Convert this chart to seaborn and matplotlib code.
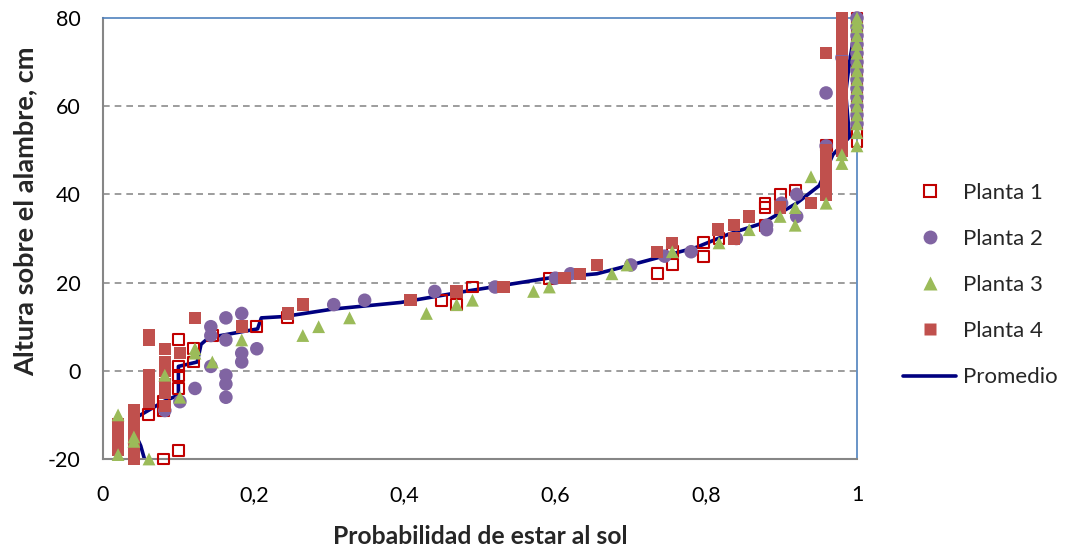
import matplotlib
matplotlib.use("Agg")
import matplotlib.pyplot as plt
import seaborn as sns
import pandas as pd
from matplotlib.lines import Line2D

sns.set_theme(style="white")
plt.rcParams['font.family'] = ['Lato', 'DejaVu Sans']
plt.rcParams['axes.unicode_minus'] = False

# ---------------- data ----------------
p1_x = [0.06, 0.08, 0.10, 0.08, 0.08, 0.10, 0.10, 0.10, 0.10, 0.12, 0.12, 0.145,
        0.204, 0.245, 0.449, 0.469, 0.49, 0.592, 0.735, 0.755, 0.755, 0.796, 0.796,
        0.817, 0.878, 0.878, 0.878, 0.898, 0.918, 0.959,
        1.0, 1.0, 1.0, 1.0, 1.0, 1.0, 1.0, 1.0, 1.0, 1.0, 1.0, 1.0, 1.0, 1.0, 1.0]
p1_y = [-10, -20, -18, -7, -9, 7, 1, -1, -4, 5, 2, 8,
        10, 12, 16, 15, 19, 21, 22, 24, 27, 26, 29,
        30, 38, 37, 33, 40, 41, 51,
        52, 54, 56, 58, 60, 62, 64, 66, 68, 70, 72, 74, 76, 78, 80]

p2_x = [0.082, 0.102, 0.122, 0.143, 0.143, 0.143, 0.163, 0.163, 0.163, 0.163, 0.163,
        0.184, 0.184, 0.184, 0.204, 0.306, 0.347, 0.44, 0.52, 0.60, 0.62, 0.70, 0.745,
        0.78, 0.84, 0.88, 0.88, 0.90, 0.92, 0.92, 0.959, 0.959, 0.98,
        1.0, 1.0, 1.0, 1.0, 1.0, 1.0, 1.0, 1.0, 1.0, 1.0, 1.0, 1.0, 1.0]
p2_y = [-9, -7, -4, 10, 8, 1, 12, 7, -1, -3, -6,
        13, 4, 2, 5, 15, 16, 18, 19, 21, 22, 24, 26,
        27, 30, 32, 33, 38, 40, 35, 51, 63, 71,
        56, 58, 60, 62, 64, 66, 68, 70, 72, 74, 76, 78, 80]

p3_x = [0.02, 0.02, 0.041, 0.041, 0.061, 0.082, 0.102, 0.122, 0.122, 0.145, 0.184,
        0.265, 0.286, 0.327, 0.429, 0.469, 0.49, 0.571, 0.592, 0.675, 0.695, 0.755,
        0.817, 0.857, 0.898, 0.918, 0.918, 0.959, 0.939, 0.98, 0.98,
        1.0, 1.0, 1.0, 1.0, 1.0, 1.0, 1.0, 1.0, 1.0, 1.0, 1.0, 1.0, 1.0, 1.0, 1.0, 1.0]
p3_y = [-10, -19, -15, -16, -20, -1, -6, 4, 5, 2, 7,
        8, 10, 12, 13, 15, 16, 18, 19, 22, 24, 27,
        29, 32, 35, 33, 37, 38, 44, 47, 49,
        51, 54, 56, 58, 60, 62, 64, 66, 68, 70, 72, 74, 76, 78, 79, 80]

p4_x = [0.02, 0.02, 0.02, 0.02, 0.02, 0.02, 0.02,
        0.041, 0.041, 0.041, 0.041, 0.041, 0.041, 0.041, 0.041, 0.041, 0.041, 0.041, 0.041,
        0.061, 0.061, 0.061, 0.061, 0.061, 0.061, 0.061, 0.061,
        0.082, 0.082, 0.082, 0.082, 0.082, 0.082,
        0.102, 0.122, 0.184, 0.245, 0.265, 0.408, 0.469, 0.531, 0.612, 0.633, 0.655,
        0.735, 0.755, 0.816, 0.837, 0.837, 0.857, 0.898, 0.939,
        0.959, 0.959, 0.959, 0.959, 0.959, 0.959, 0.959, 0.959, 0.959, 0.959,
        0.98, 0.98, 0.98, 0.98, 0.98, 0.98, 0.98, 0.98, 0.98, 0.98,
        0.98, 0.98, 0.98, 0.98, 0.98, 0.98, 0.98, 0.98, 0.98, 0.98,
        0.98, 0.98, 0.98, 0.98, 0.98, 0.98, 0.98, 0.98, 0.98]
p4_y = [-12, -13, -14, -15, -16, -17, -18,
        -9, -10, -11, -12, -13, -14, -15, -16, -17, -18, -19, -20,
        8, 7, -1, -3, -4, -5, -6, -7,
        5, 2, 0, -3, -5, -8,
        4, 12, 10, 13, 15, 16, 18, 19, 21, 22, 24,
        27, 29, 32, 33, 30, 35, 37, 38,
        40, 42, 44, 45, 46, 47, 48, 49, 50, 72,
        50, 51, 52, 53, 54, 55, 56, 57, 58, 59,
        60, 61, 62, 63, 64, 65, 66, 67, 68, 69,
        70, 73, 74, 75, 76, 77, 78, 79, 80]

prom_x = [0.055, 0.05, 0.042, 0.04, 0.045, 0.06, 0.08, 0.10, 0.10, 0.125, 0.13, 0.14,
          0.205, 0.21, 0.24, 0.305, 0.395, 0.48, 0.59, 0.655, 0.70, 0.787, 0.83,
          0.875, 0.90, 0.92, 0.95, 0.968, 0.99, 0.985, 0.99, 1.0]
prom_y = [-20, -17, -14, -12, -10.5, -9, -7, -5.5, 1, 2, 6, 7.5,
          9.5, 12, 12.3, 14, 15.5, 18, 21, 22, 24, 28, 31,
          33.5, 36, 38, 42, 49, 53, 63, 70, 80]

x_ticks = [0, 0.2, 0.4, 0.6, 0.8, 1.0]
x_labels = ["0", "0,2", "0,4", "0,6", "0,8", "1"]
y_ticks = [-20, 0, 20, 40, 60, 80]

# ---------------- figure ----------------
fig = plt.figure(figsize=(10.7, 5.5), dpi=100)
ax = fig.add_axes([103 / 1070, 1 - 459 / 550, (857 - 103) / 1070, (459 - 18) / 550])

prom = pd.DataFrame({"x": prom_x, "y": prom_y})
sns.lineplot(data=prom, x="x", y="y", sort=False, estimator=None, color="#000080",
             linewidth=2.6, ax=ax, zorder=2)

common = dict(ax=ax, clip_on=False)
sns.scatterplot(x=p1_x, y=p1_y, marker="s", s=62, facecolor="none", edgecolor="#C00000",
                linewidth=1.5, zorder=3, **common)
sns.scatterplot(x=p2_x, y=p2_y, marker="o", s=95, color="#8064A2", edgecolor="none",
                zorder=4, **common)
sns.scatterplot(x=p4_x, y=p4_y, marker="s", s=80, color="#C0504D", edgecolor="none",
                zorder=5, **common)
sns.scatterplot(x=p3_x, y=p3_y, marker="^", s=85, color="#9BBB59", edgecolor="none",
                zorder=6, **common)

ax.set_xlim(0, 1)
ax.set_ylim(-20, 80)
ax.set_xticks(x_ticks)
ax.set_xticklabels(x_labels)
ax.set_yticks(y_ticks)
ax.tick_params(axis="both", labelsize=15.5, length=0, colors="black")
ax.tick_params(axis="x", pad=19)
ax.tick_params(axis="y", pad=16)

for yv in [0, 20, 40, 60]:
    ax.axhline(yv, color="#8C8C8C", linestyle=(0, (4, 3)), linewidth=1.2, zorder=1)

for side in ["left", "bottom"]:
    ax.spines[side].set_color("#868686")
    ax.spines[side].set_linewidth(1.5)
for side in ["top", "right"]:
    ax.spines[side].set_color("#4F81BD")
    ax.spines[side].set_linewidth(1.2)

ax.set_xlabel("Probabilidad de estar al sol", fontsize=17.8, fontweight="bold", labelpad=14)
ax.set_ylabel("Altura sobre el alambre, cm", fontsize=19.5, fontweight="bold")
ax.yaxis.set_label_coords(-0.087, 0.562)

handles = [
    Line2D([], [], linestyle="none", marker="s", markersize=8, markerfacecolor="none",
           markeredgecolor="#C00000", markeredgewidth=1.5),
    Line2D([], [], linestyle="none", marker="o", markersize=10, markerfacecolor="#8064A2",
           markeredgecolor="none"),
    Line2D([], [], linestyle="none", marker="^", markersize=10, markerfacecolor="#9BBB59",
           markeredgecolor="none"),
    Line2D([], [], linestyle="none", marker="s", markersize=9, markerfacecolor="#C0504D",
           markeredgecolor="none"),
    Line2D([], [], color="#000080", linewidth=2.6),
]
labels = ["Planta 1", "Planta 2", "Planta 3", "Planta 4", "Promedio"]
fig.legend(handles, labels, loc="center left", bbox_to_anchor=(883 / 1070, 1 - 285 / 550),
           frameon=False, fontsize=16, labelspacing=1.18, handlelength=2.4,
           handletextpad=0.3)

fig.savefig("out.png", dpi=100)
